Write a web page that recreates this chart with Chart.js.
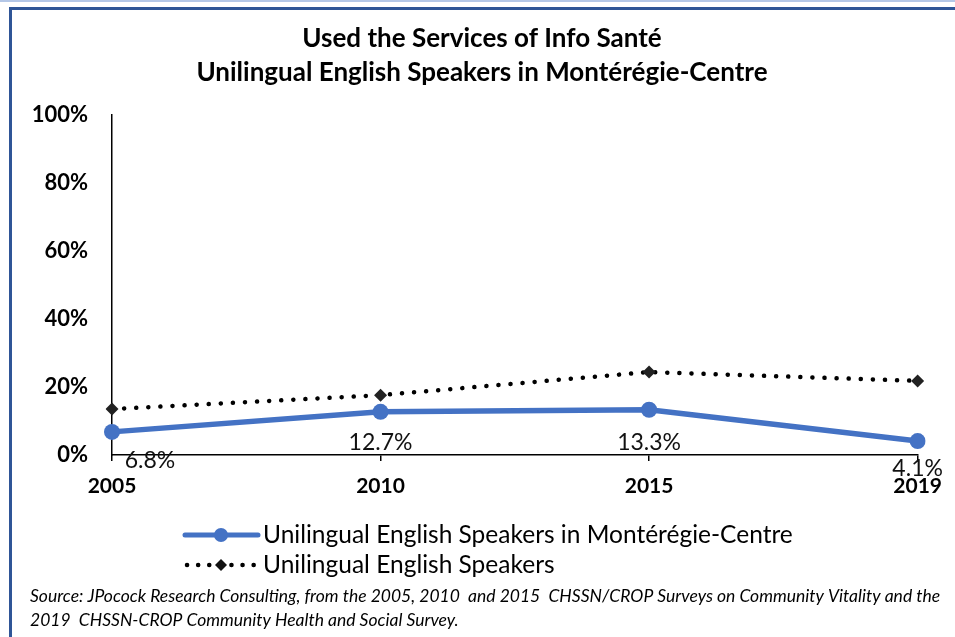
<!DOCTYPE html>
<html>
<head>
<meta charset="utf-8">
<script src="https://cdn.jsdelivr.net/npm/chart.js@4.4.1/dist/chart.umd.min.js"></script>
<style>
  html, body { margin: 0; padding: 0; background: #ffffff; }
  #wrap { position: relative; width: 955px; height: 637px; }
  canvas { display: block; }
</style>
</head>
<body>
<div id="wrap"><canvas id="c" width="955" height="637"></canvas></div>
<script>
// ---- Data ----
const categories = ["2005", "2010", "2015", "2019"];
const monteregieValues = [6.8, 12.7, 13.3, 4.1];
const unilingualValues = [13.5, 17.6, 24.4, 21.8];
const yTicks = [0, 20, 40, 60, 80, 100];
const seriesNames = ["Unilingual English Speakers in Montérégie-Centre", "Unilingual English Speakers"];
const titleLines = ["Used the Services of Info Santé", "Unilingual English Speakers in Montérégie-Centre"];
const sourceLines = [
  "Source: JPocock Research Consulting, from the 2005, 2010  and 2015  CHSSN/CROP Surveys on Community Vitality and the",
  "2019  CHSSN-CROP Community Health and Social Survey."
];

const BLUE = "#4472C4";
const FONT = "Lato, 'Open Sans', sans-serif";

// label offsets relative to point x and the 0% baseline (styling only)
const labelOffsets = [[38, 6], [0, -12], [0, -12], [0, 14]];

const decorPlugin = {
  id: "decor",
  beforeDraw(chart) {
    const ctx = chart.ctx;
    ctx.save();
    ctx.fillStyle = "#ffffff";
    ctx.fillRect(0, 0, chart.width, chart.height);
    // frame
    ctx.fillStyle = "#b4c7e7";
    ctx.fillRect(0, 0, chart.width, 2);
    ctx.fillStyle = "#2f5597";
    ctx.fillRect(9, 7, chart.width - 9, 3);
    ctx.fillRect(9, 7, 3, chart.height - 7);
    // title
    ctx.fillStyle = "#000";
    ctx.textAlign = "center";
    ctx.textBaseline = "middle";
    ctx.font = "bold 26px " + FONT;
    ctx.fillText(titleLines[0], 482, 39);
    ctx.fillText(titleLines[1], 482, 73);
    ctx.restore();
  },
  afterDatasetsDraw(chart) {
    const ctx = chart.ctx;
    const xs = chart.scales.x, ys = chart.scales.y;
    ctx.save();
    ctx.font = "23px " + FONT;
    ctx.fillStyle = "#111";
    ctx.textAlign = "center";
    ctx.textBaseline = "middle";
    const base = ys.getPixelForValue(0);
    monteregieValues.forEach((v, i) => {
      const x = xs.getPixelForValue(i) + labelOffsets[i][0];
      const y = base + labelOffsets[i][1];
      ctx.fillText(v.toFixed(1) + "%", x, y);
    });
    ctx.restore();
  },
  afterDraw(chart) {
    const ctx = chart.ctx;
    ctx.save();
    // legend
    const lx0 = 185, lx1 = 258, lxm = 221;
    const ly = [535, 565];
    // blue series
    ctx.strokeStyle = BLUE; ctx.lineWidth = 5; ctx.lineCap = "round";
    ctx.beginPath(); ctx.moveTo(lx0, ly[0]); ctx.lineTo(lx1, ly[0]); ctx.stroke();
    ctx.fillStyle = BLUE;
    ctx.beginPath(); ctx.arc(lxm, ly[0], 7, 0, Math.PI * 2); ctx.fill();
    // dotted series
    ctx.strokeStyle = "#000"; ctx.lineWidth = 4.5; ctx.setLineDash([0.1, 11]);
    ctx.beginPath(); ctx.moveTo(lx0 + 2, ly[1]); ctx.lineTo(lx1, ly[1]); ctx.stroke();
    ctx.setLineDash([]);
    ctx.fillStyle = "#111";
    ctx.beginPath();
    ctx.moveTo(lxm, ly[1] - 6); ctx.lineTo(lxm + 6, ly[1]); ctx.lineTo(lxm, ly[1] + 6); ctx.lineTo(lxm - 6, ly[1]);
    ctx.closePath(); ctx.fill();
    ctx.fillStyle = "#000";
    ctx.textAlign = "left"; ctx.textBaseline = "middle";
    ctx.font = "24.5px " + FONT;
    ctx.fillText(seriesNames[0], 263, ly[0]);
    ctx.fillText(seriesNames[1], 263, ly[1]);
    // source
    ctx.font = "italic 17.5px " + FONT;
    ctx.fillText(sourceLines[0], 30, 596);
    ctx.fillText(sourceLines[1], 30, 620);
    ctx.restore();
  }
};

new Chart(document.getElementById("c"), {
  type: "line",
  data: {
    labels: categories,
    datasets: [
      {
        label: seriesNames[0],
        data: monteregieValues,
        borderColor: BLUE,
        backgroundColor: BLUE,
        borderWidth: 5.5,
        pointRadius: 8,
        pointHoverRadius: 8,
        pointBackgroundColor: BLUE,
        pointBorderWidth: 0,
        tension: 0,
        order: 1
      },
      {
        label: seriesNames[1],
        data: unilingualValues,
        borderColor: "#000",
        backgroundColor: "#111",
        borderWidth: 4.5,
        borderDash: [0.1, 12],
        borderCapStyle: "round",
        pointStyle: "rectRot",
        pointRadius: 6.5,
        pointHoverRadius: 6.5,
        pointBackgroundColor: "#222",
        pointBorderWidth: 0,
        tension: 0,
        order: 2
      }
    ]
  },
  options: {
    responsive: false,
    animation: false,
    events: [],
    layout: { padding: { left: 12, right: 36, top: 115, bottom: 137 } },
    plugins: {
      legend: { display: false },
      title: { display: false },
      tooltip: { enabled: false }
    },
    scales: {
      x: {
        type: "category",
        offset: false,
        afterFit(scale) { scale.height = 45; },
        grid: { display: true, drawOnChartArea: false, drawTicks: true, tickLength: 6, color: "#000", lineWidth: 1.5 },
        border: { display: true, color: "#000", width: 1.5 },
        ticks: { color: "#000", padding: 13, font: { family: FONT, size: 21, weight: "bold" }, maxRotation: 0, autoSkip: false }
      },
      y: {
        min: 0,
        max: 100,
        afterFit(scale) { scale.width = 100; },
        afterBuildTicks(scale) { scale.ticks = yTicks.map(v => ({ value: v })); },
        grid: { display: false, drawTicks: false },
        border: { display: true, color: "#000", width: 1.5 },
        ticks: { color: "#000", padding: 24, font: { family: FONT, size: 22, weight: "bold" }, callback: v => v + "%" }
      }
    }
  },
  plugins: [decorPlugin]
});
</script>
</body>
</html>
